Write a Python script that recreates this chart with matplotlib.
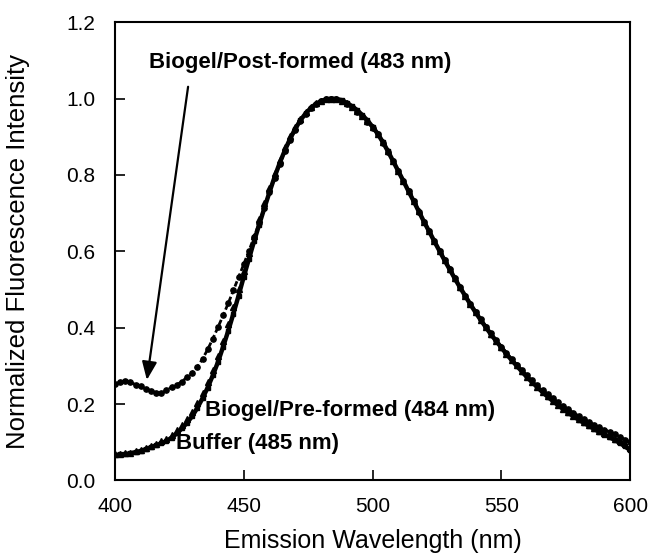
import matplotlib
matplotlib.use("Agg")
import matplotlib.pyplot as plt

wavelength = list(range(400, 601, 2))

buffer_485 = [0.066, 0.068, 0.069, 0.071, 0.074, 0.077, 0.082, 0.087, 0.092, 0.097,
              0.103, 0.112, 0.123, 0.136, 0.151, 0.168, 0.190, 0.215, 0.243, 0.275,
              0.310, 0.350, 0.392, 0.437, 0.484, 0.533, 0.580, 0.626, 0.670, 0.713,
              0.755, 0.795, 0.832, 0.865, 0.895, 0.921, 0.943, 0.961, 0.975, 0.986,
              0.993, 0.998, 1.000, 0.999, 0.996, 0.989, 0.980, 0.970, 0.957, 0.943,
              0.926, 0.908, 0.886, 0.862, 0.836, 0.810, 0.784, 0.757, 0.731, 0.704,
              0.677, 0.652, 0.626, 0.601, 0.576, 0.552, 0.528, 0.505, 0.483, 0.461,
              0.440, 0.420, 0.401, 0.382, 0.365, 0.348, 0.331, 0.315, 0.300, 0.285,
              0.270, 0.257, 0.244, 0.231, 0.219, 0.208, 0.197, 0.187, 0.177, 0.168,
              0.159, 0.151, 0.143, 0.135, 0.127, 0.120, 0.113, 0.106, 0.098, 0.089,
              0.079]

pre_formed_484 = [0.068, 0.069, 0.071, 0.073, 0.076, 0.080, 0.085, 0.090, 0.096, 0.102,
                  0.109, 0.119, 0.131, 0.145, 0.161, 0.180, 0.203, 0.228, 0.257, 0.290,
                  0.326, 0.366, 0.409, 0.454, 0.501, 0.549, 0.596, 0.641, 0.684, 0.726,
                  0.766, 0.805, 0.840, 0.872, 0.901, 0.926, 0.947, 0.964, 0.978, 0.988,
                  0.995, 0.999, 1.000, 0.998, 0.994, 0.988, 0.979, 0.968, 0.955, 0.941,
                  0.925, 0.907, 0.886, 0.862, 0.837, 0.811, 0.785, 0.758, 0.731, 0.705,
                  0.678, 0.652, 0.627, 0.602, 0.577, 0.553, 0.529, 0.506, 0.484, 0.462,
                  0.441, 0.421, 0.402, 0.383, 0.366, 0.349, 0.332, 0.316, 0.301, 0.286,
                  0.272, 0.258, 0.245, 0.232, 0.220, 0.209, 0.198, 0.188, 0.178, 0.169,
                  0.160, 0.152, 0.144, 0.137, 0.130, 0.123, 0.116, 0.109, 0.102, 0.094,
                  0.085]

post_formed_483 = [0.252, 0.258, 0.261, 0.257, 0.251, 0.246, 0.240, 0.235, 0.230, 0.228,
                   0.236, 0.244, 0.250, 0.259, 0.270, 0.282, 0.297, 0.318, 0.343, 0.371,
                   0.401, 0.432, 0.464, 0.498, 0.532, 0.566, 0.601, 0.637, 0.675, 0.714,
                   0.755, 0.793, 0.829, 0.862, 0.892, 0.918, 0.941, 0.960, 0.975, 0.987,
                   0.995, 0.999, 1.000, 0.998, 0.993, 0.986, 0.977, 0.966, 0.954, 0.940,
                   0.924, 0.906, 0.885, 0.861, 0.836, 0.810, 0.784, 0.757, 0.731, 0.704,
                   0.678, 0.652, 0.627, 0.602, 0.577, 0.553, 0.529, 0.506, 0.484, 0.463,
                   0.442, 0.422, 0.403, 0.385, 0.367, 0.350, 0.334, 0.318, 0.303, 0.289,
                   0.275, 0.262, 0.249, 0.237, 0.226, 0.215, 0.205, 0.195, 0.186, 0.177,
                   0.169, 0.161, 0.153, 0.146, 0.139, 0.133, 0.127, 0.121, 0.114, 0.107,
                   0.100]

x_ticks = [400, 450, 500, 550, 600]
y_ticks = [0.0, 0.2, 0.4, 0.6, 0.8, 1.0, 1.2]
label_post = "Biogel/Post-formed (483 nm)"
label_pre = "Biogel/Pre-formed (484 nm)"
label_buffer = "Buffer (485 nm)"

plt.rcParams['font.family'] = ['Liberation Sans', 'DejaVu Sans']

fig = plt.figure(figsize=(6.53, 5.56), dpi=100)
ax = fig.add_axes([0.176, 0.136, 0.789, 0.824])

ax.plot(wavelength, buffer_485, color='black', lw=3.2, marker='s', ms=3.5,
        zorder=3)
ax.plot(wavelength, pre_formed_484, color='black', marker='^', ms=4.5,
        linestyle='none', zorder=3)
ax.plot(wavelength, post_formed_483, color='black', lw=2.0, marker='o', ms=3.8,
        linestyle=(0, (2, 1)), zorder=3)

ax.set_xlim(400, 600)
ax.set_ylim(0, 1.2)
ax.set_xticks(x_ticks)
ax.set_yticks(y_ticks)
ax.set_xticklabels([str(v) for v in x_ticks])
ax.set_yticklabels([f"{v:.1f}" for v in y_ticks])
ax.tick_params(axis='both', direction='in', length=7, width=1.2, labelsize=15,
               top=False, right=False)
ax.tick_params(axis='x', pad=12)
ax.tick_params(axis='y', pad=14)
for s in ax.spines.values():
    s.set_linewidth(1.5)

ax.set_xlabel("Emission Wavelength (nm)", fontsize=18, labelpad=9)
ax.set_ylabel("Normalized Fluorescence Intensity", fontsize=18.5, labelpad=26)

ax.text(413.4, 1.094, label_post, fontsize=16, fontweight='bold', va='center', ha='left')
ax.text(435, 0.184, label_pre, fontsize=16, fontweight='bold', va='center', ha='left')
ax.text(423.8, 0.097, label_buffer, fontsize=16, fontweight='bold', va='center', ha='left')

ax.annotate("", xy=(412.4, 0.263), xytext=(428.4, 1.031),
            arrowprops=dict(arrowstyle='-|>,head_length=1.1,head_width=0.45',
                            color='black', lw=1.6, shrinkA=0, shrinkB=0))

fig.savefig("out.png", dpi=100)
